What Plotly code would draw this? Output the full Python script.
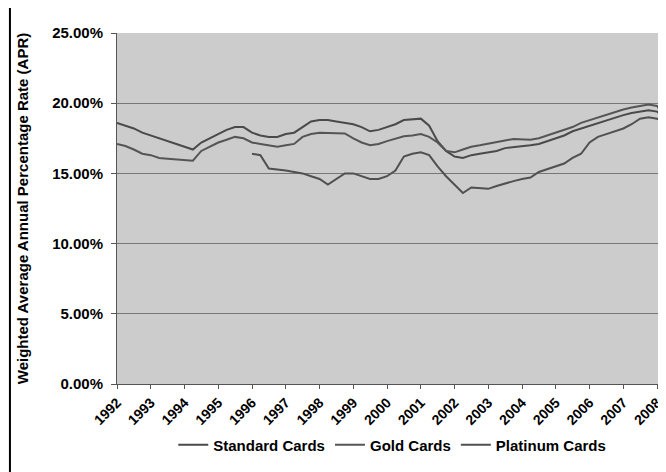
import pandas as pd
import plotly.graph_objects as go

# quarterly observations, 1992Q1 .. 2008Q2
quarters = pd.date_range("1992-01-01", periods=66, freq="QS")

standard_apr = [
    18.6, 18.4, 18.2, 17.9, 17.7, 17.5, 17.3, 17.1, 16.9, 16.7, 17.2, 17.5,
    17.8, 18.1, 18.3, 18.3, 17.9, 17.7, 17.6, 17.6, 17.8, 17.9, 18.3, 18.7,
    18.8, 18.8, 18.7, 18.6, 18.5, 18.3, 18.0, 18.1, 18.3, 18.5, 18.8, 18.85,
    18.9, 18.4, 17.3, 16.6, 16.2, 16.1, 16.3, 16.4, 16.5, 16.6, 16.8, 16.85,
    16.9, 17.0, 17.1, 17.3, 17.5, 17.7, 18.0, 18.2, 18.4, 18.6, 18.8, 19.0,
    19.15, 19.3, 19.4, 19.5, 19.4, 19.0,
]
gold_apr = [
    17.1, 16.95, 16.7, 16.4, 16.3, 16.1, 16.05, 16.0, 15.9, 15.9, 16.6, 16.9,
    17.2, 17.4, 17.6, 17.5, 17.2, 17.1, 17.0, 16.9, 17.0, 17.1, 17.6, 17.8,
    17.9, 17.9, 17.9, 17.85, 17.5, 17.2, 17.0, 17.1, 17.3, 17.5, 17.65, 17.7,
    17.8, 17.6, 17.2, 16.6, 16.5, 16.7, 16.9, 17.0, 17.1, 17.2, 17.35, 17.45,
    17.45, 17.4, 17.5, 17.7, 17.9, 18.1, 18.3, 18.6, 18.8, 19.0, 19.2, 19.4,
    19.55, 19.7, 19.8, 19.9, 19.8, 19.0,
]
platinum_apr = [None] * 16 + [
    16.4, 16.3, 15.35, 15.3, 15.2, 15.1, 15.0, 14.8,
    14.6, 14.2, 14.6, 15.0, 15.0, 14.8, 14.6, 14.6, 14.8, 15.2, 16.2, 16.4,
    16.5, 16.3, 15.5, 14.8, 14.2, 13.6, 14.0, 13.95, 13.9, 14.1, 14.3, 14.45,
    14.6, 14.7, 15.1, 15.3, 15.5, 15.7, 16.1, 16.4, 17.2, 17.6, 17.8, 18.0,
    18.2, 18.5, 18.9, 19.0, 18.9, 18.6,
]

series = [
    ("Standard Cards", standard_apr, "#4a4a4a"),
    ("Gold Cards", gold_apr, "#555555"),
    ("Platinum Cards", platinum_apr, "#505050"),
]
year_ticks = [f"{y}-01-01" for y in range(1992, 2009)]
year_labels = [str(y) for y in range(1992, 2009)]
pct_ticks = [0, 5, 10, 15, 20, 25]
pct_labels = [f"{p:.2f}%" for p in pct_ticks]

font = "Liberation Sans, Arial, sans-serif"

fig = go.Figure()
for name, vals, color in series:
    fig.add_trace(go.Scatter(
        x=quarters, y=vals, mode="lines", name=name,
        line=dict(color=color, width=2), connectgaps=False,
    ))

# the page body adds an 8px margin, so the figure is sized/offset to suit
fig.update_layout(
    width=658, height=464,
    margin=dict(l=109, r=0, t=25, b=88, autoexpand=False),
    paper_bgcolor="white",
    plot_bgcolor="#cccccc",
    font=dict(family=font, size=15, color="black"),
    showlegend=True,
    legend=dict(
        orientation="h", xref="container", yref="container",
        x=0.584, xanchor="center", y=0.058, yanchor="middle",
        font=dict(family=font, size=15, color="black", weight="bold"),
        itemwidth=30, bgcolor="rgba(0,0,0,0)",
    ),
    xaxis=dict(
        range=["1992-01-01", "2008-04-07"], automargin=False,
        tickvals=year_ticks, ticktext=year_labels, tickangle=-45,
        tickfont=dict(family=font, size=14, weight="bold"),
        ticks="outside", ticklen=4, tickcolor="#555",
        showgrid=False, showline=True, linecolor="#555", linewidth=1,
        zeroline=False,
    ),
    yaxis=dict(
        range=[0, 25], automargin=False,
        tickvals=pct_ticks, ticktext=pct_labels,
        tickfont=dict(family=font, size=15, weight="bold"),
        ticks="outside", ticklen=5, tickcolor="#555", ticklabelstandoff=5,
        showgrid=True, gridcolor="#777777", gridwidth=1,
        showline=True, linecolor="#555", linewidth=1, zeroline=False,
        title=dict(text="Weighted Average Annual Percentage Rate (APR)",
                   font=dict(family=font, size=15, weight="bold"), standoff=19),
    ),
    # outer chart frame; only its left and top edges fall inside the picture
    shapes=[dict(
        type="rect", xref="paper", yref="paper",
        x0=-0.195, x1=1.3, y0=-0.45, y1=1.08,
        line=dict(color="black", width=2), fillcolor="rgba(0,0,0,0)",
        layer="above",
    )],
)

fig.write_html("out.html")
